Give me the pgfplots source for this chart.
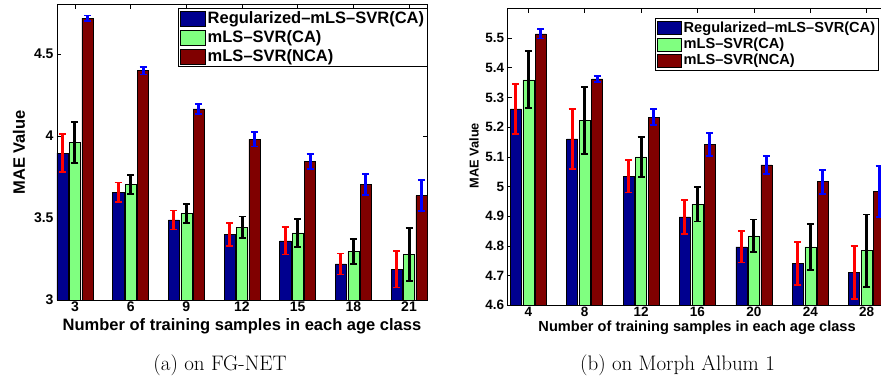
\documentclass[border=0pt]{standalone}
\usepackage{fontspec}
\newfontfamily\lsans{Liberation Sans}
\usepackage{pgfplots}
\pgfplotsset{compat=1.18}
\definecolor{mblue}{RGB}{0,0,143}
\definecolor{mgreen}{RGB}{128,255,128}
\definecolor{mbrown}{RGB}{128,0,0}
\pgfplotsset{
  mstyle/.style={scale only axis, ybar, anchor=south west,
    tick align=inside, axis line style={black, line width=0.8pt},
    major tick style={black, line width=0.6pt},
    /pgf/number format/assume math mode=true,
    legend cell align=left,
    xticklabel style={inner sep=1.5pt},
    legend image code/.code={\draw[##1, draw=black, line width=0.6pt] (0pt,-7.5pt) rectangle (25pt,7.5pt);},
  },
  errbar/.style={error bars/.cd, y dir=both, y explicit,
    error bar style={#1, line width=3pt},
    error mark options={rotate=90, #1, mark size=3.5pt, line width=1.8pt}},
}
\begin{document}
\begin{tikzpicture}
\useasboundingbox (0,0) rectangle (881pt,381pt);
% ---------------- left: FG-NET
\begin{axis}[mstyle, at={(57pt,81pt)}, width=370pt, height=295.2pt,
  xmin=2.03, xmax=21.97, ymin=3, ymax=4.8,
  xtick={3,6,9,12,15,18,21}, ytick={3,3.5,4,4.5},
  bar width=0.6,
  ticklabel style={font=\lsans\bfseries\fontsize{14}{16}\selectfont},
  xlabel={Number of training samples in each age class},
  ylabel={MAE Value},
  label style={font=\lsans\bfseries\fontsize{16.5}{19}\selectfont},
  xlabel style={at={(axis description cs:0.5,-0.089)}, anchor=center},
  ylabel style={at={(axis description cs:-0.103,0.5)}, anchor=center},
  legend style={at={(axis cs:22.02,4.78)}, anchor=north east, draw=black, line width=0.6pt,
    font=\lsans\bfseries\fontsize{16.5}{19}\selectfont, row sep=1.5pt, inner sep=1.5pt},
]
\addplot[fill=mblue, draw=black, line width=0.5pt, bar shift=-0.67, errbar=red] coordinates {
 (3,3.896) +- (0,0.117) (6,3.657) +- (0,0.060) (9,3.488) +- (0,0.058)
 (12,3.400) +- (0,0.070) (15,3.360) +- (0,0.083) (18,3.220) +- (0,0.064)
 (21,3.187) +- (0,0.111)};
\addplot[fill=mgreen, draw=black, line width=0.5pt, bar shift=0, errbar=black] coordinates {
 (3,3.960) +- (0,0.123) (6,3.705) +- (0,0.059) (9,3.528) +- (0,0.058)
 (12,3.443) +- (0,0.066) (15,3.410) +- (0,0.086) (18,3.295) +- (0,0.075)
 (21,3.278) +- (0,0.161)};
\addplot[fill=mbrown, draw=black, line width=0.5pt, bar shift=0.67, errbar=blue] coordinates {
 (3,4.718) +- (0,0.017) (6,4.398) +- (0,0.023) (9,4.165) +- (0,0.029)
 (12,3.980) +- (0,0.044) (15,3.843) +- (0,0.045) (18,3.705) +- (0,0.065)
 (21,3.636) +- (0,0.095)};
\legend{Regularized–mLS–SVR(CA), mLS–SVR(CA), mLS–SVR(NCA)}
\end{axis}
% ---------------- right: Morph
\begin{axis}[mstyle, at={(507.7pt,75.7pt)}, width=377.3pt, height=297pt,
  xmin=2.54, xmax=29.3, ymin=4.6, ymax=5.6,
  xtick={4,8,12,16,20,24,28}, ytick={4.6,4.7,4.8,4.9,5,5.1,5.2,5.3,5.4,5.5},
  bar width=0.78,
  ticklabel style={font=\lsans\bfseries\fontsize{13.5}{16}\selectfont},
  xlabel={Number of training samples in each age class},
  ylabel={MAE Value},
  xlabel style={font=\lsans\bfseries\fontsize{14.6}{17}\selectfont, at={(axis description cs:0.502,-0.074)}, anchor=center},
  ylabel style={font=\lsans\bfseries\fontsize{12.8}{15}\selectfont, at={(axis description cs:-0.089,0.504)}, anchor=center},
  legend style={at={(axis cs:28.87,5.566)}, anchor=north east, draw=black, line width=0.6pt,
    font=\lsans\bfseries\fontsize{14.6}{17}\selectfont, row sep=0pt, inner sep=1.5pt},
  legend image code/.code={\draw[#1, draw=black, line width=0.6pt] (0pt,-6.5pt) rectangle (24pt,6.5pt);},
]
\addplot[fill=mblue, draw=black, line width=0.5pt, bar shift=-0.886, errbar=red] coordinates {
 (4,5.261) +- (0,0.084) (8,5.160) +- (0,0.101) (12,5.035) +- (0,0.055)
 (16,4.898) +- (0,0.057) (20,4.797) +- (0,0.053) (24,4.741) +- (0,0.072)
 (28,4.710) +- (0,0.090)};
\addplot[fill=mgreen, draw=black, line width=0.5pt, bar shift=0, errbar=black] coordinates {
 (4,5.359) +- (0,0.096) (8,5.222) +- (0,0.113) (12,5.100) +- (0,0.067)
 (16,4.940) +- (0,0.058) (20,4.834) +- (0,0.055) (24,4.797) +- (0,0.078)
 (28,4.784) +- (0,0.122)};
\addplot[fill=mbrown, draw=black, line width=0.5pt, bar shift=0.886, errbar=blue] coordinates {
 (4,5.514) +- (0,0.016) (8,5.362) +- (0,0.010) (12,5.234) +- (0,0.026)
 (16,5.142) +- (0,0.039) (20,5.073) +- (0,0.030) (24,5.016) +- (0,0.040)
 (28,4.983) +- (0,0.085)};
\legend{Regularized–mLS–SVR(CA), mLS–SVR(CA), mLS–SVR(NCA)}
\end{axis}
\node[font=\fontsize{21}{25}\selectfont] at (220pt,16pt) {(a) on FG-NET};
\node[font=\fontsize{21}{25}\selectfont] at (677.5pt,16pt) {(b) on Morph Album 1};
\end{tikzpicture}
\end{document}
